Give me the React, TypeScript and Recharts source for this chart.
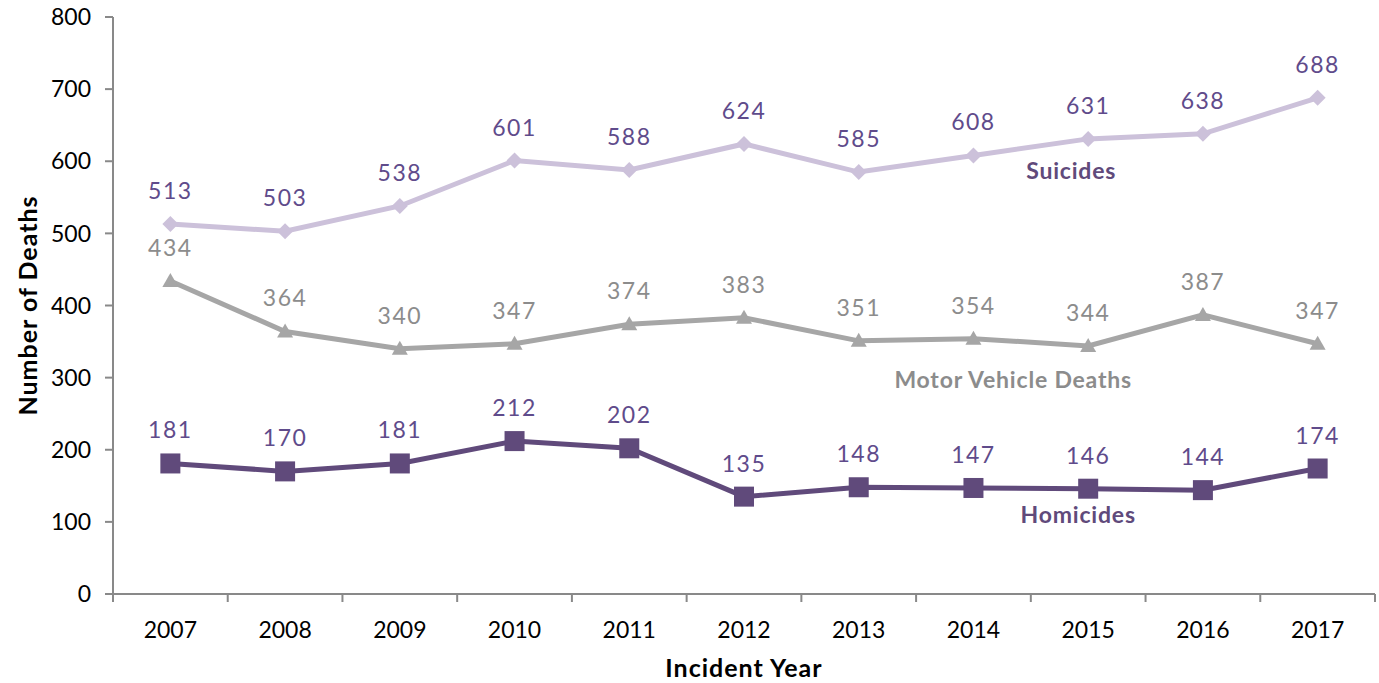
import { LineChart, Line, XAxis, YAxis, LabelList, ReferenceDot } from "recharts";

const years = ["2007", "2008", "2009", "2010", "2011", "2012", "2013", "2014", "2015", "2016", "2017"];
const suicides = [513, 503, 538, 601, 588, 624, 585, 608, 631, 638, 688];
const motorVehicle = [434, 364, 340, 347, 374, 383, 351, 354, 344, 387, 347];
const homicides = [181, 170, 181, 212, 202, 135, 148, 147, 146, 144, 174];
const yTicks = [0, 100, 200, 300, 400, 500, 600, 700, 800];

const data = years.map((year, i) => ({
  year,
  suicides: suicides[i],
  motor: motorVehicle[i],
  homicides: homicides[i],
}));

const FONT = "Lato, 'Open Sans', sans-serif";
const AXIS = "#898989";

const Diamond = ({ cx, cy }: any) => (
  <path d={`M${cx},${cy - 8} L${cx + 8},${cy} L${cx},${cy + 8} L${cx - 8},${cy} Z`} fill="#CCC1DA" />
);
const Triangle = ({ cx, cy }: any) => (
  <path d={`M${cx},${cy - 8} L${cx + 8},${cy + 6} L${cx - 8},${cy + 6} Z`} fill="#A6A6A6" />
);
const Square = ({ cx, cy }: any) => (
  <rect x={cx - 10} y={cy - 10} width={20} height={20} fill="#604A7B" />
);

// year label plus tick marks on the category edges
const YearTick = ({ x, y, payload, index }: any) => {
  const half = payload.offset || 0;
  return (
    <g>
      <line x1={x - half} x2={x - half} y1={y} y2={y + 8} stroke={AXIS} strokeWidth={2} />
      {index === years.length - 1 && (
        <line x1={x + half} x2={x + half} y1={y} y2={y + 8} stroke={AXIS} strokeWidth={2} />
      )}
      <text x={x} y={y + 44} textAnchor="middle" fill="#000" fontSize={23} fontFamily={FONT}>
        {payload.value}
      </text>
    </g>
  );
};

const seriesLabel = (text: string, color: string, dx: number) => (p: any) => (
  <text
    x={p.cx + dx}
    y={p.cy}
    textAnchor="middle"
    dominantBaseline="central"
    fill={color}
    fontSize={23}
    fontWeight="bold"
    fontFamily={FONT}
    letterSpacing={0.8}
  >
    {text}
  </text>
);

export default function App() {
  return (
    <div style={{ position: "absolute", left: 0, top: 0, width: 1379, height: 683, background: "#fff" }}>
      <LineChart width={1379} height={683} data={data} margin={{ top: 17, right: 4, bottom: 0, left: 0 }}>
        <XAxis
          dataKey="year"
          scale="band"
          axisLine={{ stroke: AXIS, strokeWidth: 2 }}
          tickLine={false}
          tickSize={0}
          tickMargin={0}
          interval={0}
          height={89}
          tick={<YearTick />}
          label={{
            value: "Incident Year",
            position: "insideBottom",
            offset: 6,
            fill: "#000",
            fontSize: 25,
            fontWeight: "bold",
            fontFamily: FONT,
            letterSpacing: 1,
          }}
        />
        <YAxis
          domain={[0, 800]}
          ticks={yTicks}
          width={113}
          tickSize={8}
          tickMargin={14}
          axisLine={{ stroke: AXIS, strokeWidth: 2 }}
          tickLine={{ stroke: AXIS, strokeWidth: 2 }}
          tick={{ fill: "#000", fontSize: 23, fontFamily: FONT }}
          label={{
            value: "Number of Deaths",
            angle: -90,
            position: "insideLeft",
            offset: 28,
            style: { textAnchor: "middle" },
            fill: "#000",
            fontSize: 25,
            fontWeight: "bold",
            fontFamily: FONT,
            letterSpacing: 1,
          }}
        />
        <Line
          dataKey="suicides"
          stroke="#CCC1DA"
          strokeWidth={5}
          dot={<Diamond />}
          activeDot={false}
          isAnimationActive={false}
        >
          <LabelList dataKey="suicides" position="top" offset={25} fill="#5F4B8B" fontSize={23} fontFamily={FONT} letterSpacing={1.5} />
        </Line>
        <Line
          dataKey="motor"
          stroke="#A6A6A6"
          strokeWidth={5}
          dot={<Triangle />}
          activeDot={false}
          isAnimationActive={false}
        >
          <LabelList dataKey="motor" position="top" offset={25} fill="#8C8C8C" fontSize={23} fontFamily={FONT} letterSpacing={1.5} />
        </Line>
        <Line
          dataKey="homicides"
          stroke="#604A7B"
          strokeWidth={5}
          dot={<Square />}
          activeDot={false}
          isAnimationActive={false}
        >
          <LabelList dataKey="homicides" position="top" offset={25} fill="#5F4B8B" fontSize={23} fontFamily={FONT} letterSpacing={1.5} />
        </Line>
        <ReferenceDot x="2015" y={588} r={0} shape={seriesLabel("Suicides", "#604A7B", -17)} />
        <ReferenceDot x="2015" y={298} r={0} shape={seriesLabel("Motor Vehicle Deaths", "#8C8C8C", -75)} />
        <ReferenceDot x="2015" y={111} r={0} shape={seriesLabel("Homicides", "#604A7B", -10)} />
      </LineChart>
    </div>
  );
}
